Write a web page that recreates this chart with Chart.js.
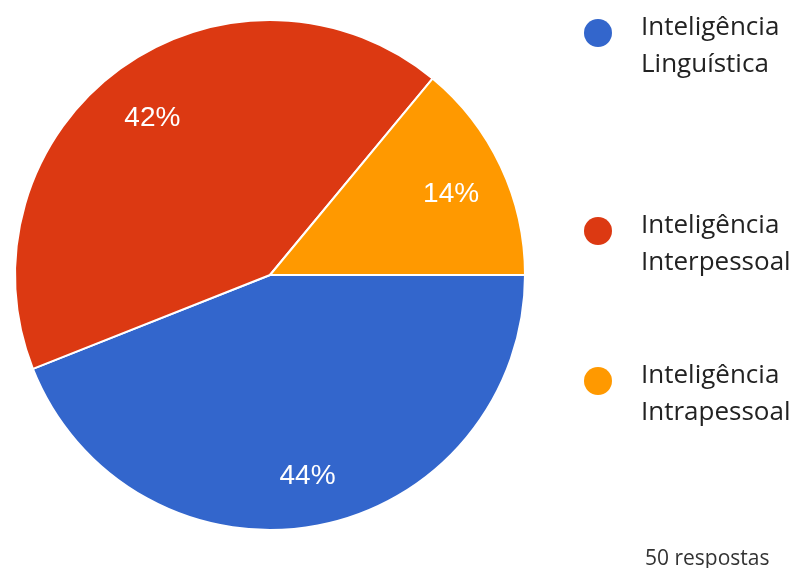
<!DOCTYPE html>
<html>
<head>
<meta charset="utf-8">
<script src="https://cdn.jsdelivr.net/npm/chart.js@4.4.1/dist/chart.umd.min.js"></script>
<style>
  html, body { margin: 0; padding: 0; background: #fff; }
  #wrap { position: relative; width: 803px; height: 568px; }
</style>
</head>
<body>
<div id="wrap"><canvas id="pieChart" width="803" height="568"></canvas></div>
<script>
// Chart data
const labels = [
    ['Inteligência', 'Linguística'],
    ['Inteligência', 'Interpessoal'],
    ['Inteligência', 'Intrapessoal']
];
const values = [44, 42, 14];
const colors = ['#3366cc', '#dc3912', '#ff9900'];
const totalText = '50 respostas';

// Legend layout (baselines of first line)
const legendY = [35, 233, 383];

// Percent labels inside slices
const sliceLabels = {
    id: 'sliceLabels',
    afterDatasetsDraw(chart) {
        const ctx = chart.ctx;
        const meta = chart.getDatasetMeta(0);
        const total = values.reduce((a, b) => a + b, 0);
        ctx.save();
        ctx.font = '28px "Liberation Sans", Arial, sans-serif';
        ctx.fillStyle = '#ffffff';
        ctx.textAlign = 'center';
        ctx.textBaseline = 'middle';
        meta.data.forEach((arc, i) => {
            const mid = (arc.startAngle + arc.endAngle) / 2;
            const r = arc.outerRadius * 0.785;
            const x = arc.x + Math.cos(mid) * r;
            const y = arc.y + 5 + Math.sin(mid) * r;
            ctx.fillText(Math.round(values[i] / total * 100) + '%', x, y);
        });
        ctx.restore();
    }
};

// Legend on the right
const sideLegend = {
    id: 'sideLegend',
    afterDraw(chart) {
        const ctx = chart.ctx;
        ctx.save();
        ctx.font = '26px "Open Sans", sans-serif';
        ctx.textBaseline = 'alphabetic';
        labels.forEach((lines, i) => {
            const y = legendY[i];
            ctx.fillStyle = colors[i];
            ctx.beginPath();
            ctx.arc(598, y - 2, 14, 0, Math.PI * 2);
            ctx.fill();
            ctx.fillStyle = '#222222';
            lines.forEach((line, j) => {
                ctx.fillText(line, 641, y + j * 37);
            });
        });
        ctx.font = '21px "Open Sans", sans-serif';
        ctx.fillStyle = '#333333';
        ctx.fillText(totalText, 645, 565);
        ctx.restore();
    }
};

new Chart(document.getElementById('pieChart').getContext('2d'), {
    type: 'pie',
    data: {
        labels: labels.map(l => l.join(' ')),
        datasets: [{
            data: values,
            backgroundColor: colors,
            borderColor: '#ffffff',
            borderWidth: 2
        }]
    },
    options: {
        responsive: false,
        animation: false,
        rotation: 90,
        layout: { padding: { left: 14, right: 277, top: 19, bottom: 37 } },
        plugins: {
            legend: { display: false },
            tooltip: { enabled: false }
        }
    },
    plugins: [sliceLabels, sideLegend]
});
</script>
</body>
</html>
